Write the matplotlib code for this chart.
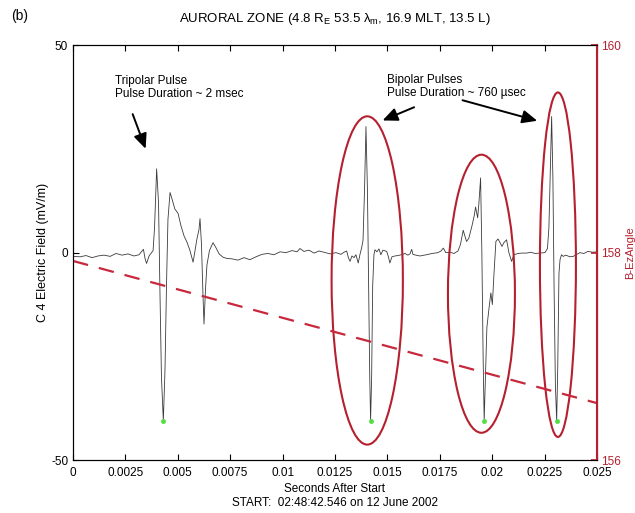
import numpy as np
import matplotlib
matplotlib.use('Agg')
import matplotlib.pyplot as plt
from matplotlib.patches import Ellipse

plt.rcParams['font.family'] = ['Liberation Sans', 'DejaVu Sans']
plt.rcParams['mathtext.fontset'] = 'custom'
plt.rcParams['mathtext.rm'] = 'Liberation Sans'
plt.rcParams['mathtext.it'] = 'Liberation Sans'
plt.rcParams['axes.unicode_minus'] = False

# C4 electric field trace (seconds after start, mV/m)
t_sec = [0, 0.000334, 0.00062, 0.00091, 0.00119, 0.00148, 0.00177, 0.00205, 0.00234, 0.00262,
         0.00291, 0.00315, 0.00336, 0.00344, 0.00351, 0.00363, 0.00372, 0.00382, 0.00389, 0.00399,
         0.00408, 0.00415, 0.00422, 0.00431, 0.00439, 0.00446, 0.00453, 0.00463, 0.00472, 0.00486,
         0.00501, 0.00515, 0.00530, 0.00544, 0.00558, 0.00573, 0.00582, 0.00592, 0.00601, 0.00606,
         0.00613, 0.00620, 0.00625, 0.00632, 0.00639, 0.00651, 0.00668, 0.00682, 0.00697, 0.00716,
         0.00735, 0.00759, 0.00787, 0.00816, 0.00844, 0.00873, 0.00902, 0.00930, 0.00959, 0.00988,
         0.01016, 0.01045, 0.01069, 0.01083, 0.01102, 0.01126, 0.01150, 0.01174, 0.01198, 0.01226,
         0.01255, 0.01279, 0.01293, 0.01306, 0.01314, 0.01322, 0.01331, 0.01341, 0.01350, 0.01361,
         0.01369, 0.01377, 0.01384, 0.01391, 0.01398, 0.01405, 0.01411, 0.01416, 0.01420, 0.01425,
         0.01430, 0.01436, 0.01441, 0.01450, 0.01460, 0.01469, 0.01479, 0.01497, 0.01505, 0.01512,
         0.01522, 0.01536, 0.01550, 0.01568, 0.01584, 0.01598, 0.01608, 0.01616, 0.01622, 0.01636,
         0.01655, 0.01687, 0.01713, 0.01741, 0.01756, 0.01767, 0.01779, 0.01799, 0.01818, 0.01837,
         0.01849, 0.01862, 0.01870, 0.01878, 0.01889, 0.01904, 0.01915, 0.01921, 0.01931, 0.01937,
         0.01945, 0.01951, 0.01957, 0.01962, 0.01968, 0.01975, 0.01986, 0.01994, 0.02001, 0.02009,
         0.02018, 0.02028, 0.02037, 0.02047, 0.02056, 0.02069, 0.02080, 0.02093, 0.02104, 0.02123,
         0.02142, 0.02165, 0.02185, 0.02204, 0.02228, 0.02252, 0.02264, 0.02271, 0.02278, 0.02284,
         0.02290, 0.02296, 0.02302, 0.02308, 0.02313, 0.02319, 0.02324, 0.02331, 0.02339, 0.02352,
         0.02371, 0.02387, 0.02405, 0.02419, 0.02438, 0.02457, 0.02481, 0.025]
e_field = [-0.9, -1.0, -0.7, -1.2, -0.8, -0.6, -0.9, -0.2, -0.6, -0.3,
           -0.8, -0.5, 0.8, -1.5, -2.6, -0.8, -0.2, 0.5, 6, 20.2,
           12, -10, -30, -40.5, -28, -8, 8, 14.5, 13, 10.5,
           9.5, 6.5, 4, 2.5, 0.5, -2.3, 0.5, 3.5, 5.5, 8.2,
           2, -10, -17.2, -9, -3, 0.5, 2.4, 1.2, -0.3, -1.1,
           -1.4, -1.5, -1.8, -1.2, -1.7, -1.0, -0.4, -0.2, -0.5, 0.2,
           0.0, 0.5, 0.2, 1.0, 0.3, 0.6, -0.1, 0.4, 0.1, -0.3,
           0.0, -0.4, 0.1, 0.4, -1.2, -2.1, -0.8, -1.2, -0.5, -2.5,
           -0.5, 1.1, 3, 15, 30.4, 15, -10, -30, -40.5, -30,
           -8, -0.5, 0.7, 0.2, 0.9, -0.5, 0.6, 0.3, -1, -2.5,
           -1.0, -0.8, -0.7, -0.5, -0.2, -0.6, -0.3, 0.8, -0.4, -0.6,
           -0.8, -0.5, -0.2, 0.0, 0.4, 1.1, 0.0, 0.1, -0.2, 0.4,
           2.0, 5.4, 4.0, 2.7, 3.5, 6.5, 9, 11, 8.4, 12,
           18, 0, -25, -40.5, -30, -18, -13, -9.7, -12.5, -5,
           2.7, 3.3, 2.5, 1.5, 2.4, 3.1, 0, -2.1, -0.5, -0.2,
           -0.1, -0.1, 0.1, -0.2, -0.1, 0.0, 1.0, 6, 20, 32.8,
           18, -10, -32, -40.5, -28, -5, -1.7, -0.5, -0.9, -0.6,
           -1.0, -0.9, -0.4, 0.0, -0.2, 0.3, 0.1, 0.2]

# pulse minima marked in green
min_t = [0.00431, 0.01420, 0.01962, 0.02308]
min_e = [-40.5, -40.5, -40.5, -40.5]

# B-Ez angle (deg), right axis
angle_t = [0, 0.025]
angle = [157.92, 156.55]

# circled bipolar pulses: centre t, centre E, width, height
ell_t = [0.01404, 0.01949, 0.02314]
ell_e = [-6.7, -9.9, -2.9]
ell_w = [0.003402, 0.003197, 0.001718]
ell_h = [79.1, 67.0, 83.0]

xticks = [0, 0.0025, 0.005, 0.0075, 0.01, 0.0125, 0.015, 0.0175, 0.02, 0.0225, 0.025]
xlabels = ['0', '0.0025', '0.005', '0.0075', '0.01', '0.0125', '0.015', '0.0175', '0.02', '0.0225', '0.025']

red = '#b5202e'
fig = plt.figure(figsize=(6.35, 5.13), dpi=100)
ax = fig.add_axes([0.115, 0.103, 0.825, 0.809])

ax.plot(t_sec, e_field, color='#3a3a3a', lw=0.6)
ax.plot(min_t, min_e, 'o', color='#55dd44', ms=2.5, zorder=5)

for i in range(len(ell_t)):
    ax.add_patch(Ellipse((ell_t[i], ell_e[i]), ell_w[i], ell_h[i], fill=False,
                         edgecolor=red, lw=1.5, zorder=4))

ax.set_xlim(0, 0.025)
ax.set_ylim(-50, 50)
ax.set_xticks(xticks)
ax.set_xticklabels(xlabels)
ax.set_yticks([-50, 0, 50])
ax.tick_params(direction='in', labelsize=8.5, length=4, top=True)
ax.tick_params(axis='x', pad=5)
ax.set_xlabel('Seconds After Start\nSTART:  02:48:42.546 on 12 June 2002', fontsize=8.5, labelpad=3)
ax.set_ylabel('C 4 Electric Field (mV/m)', fontsize=9)
ax.yaxis.set_label_coords(-0.045, 0.5)
for s in ['top', 'left', 'bottom']:
    ax.spines[s].set_linewidth(0.8)

ax2 = ax.twinx()
ax2.plot(angle_t, angle, color='#c8283c', lw=1.6, dashes=(7, 5))
ax2.set_ylim(156, 160)
ax2.set_yticks([156, 158, 160])
ax2.tick_params(direction='in', colors=red, labelsize=8.5, length=4, width=1.2, pad=3)
ax2.spines['right'].set_color(red)
ax2.spines['right'].set_linewidth(1.5)
ax2.set_ylabel('B-EzAngle', color=red, fontsize=8, labelpad=3)

ap = dict(arrowstyle='-|>,head_length=0.9,head_width=0.4', color='black', lw=1.4)
ax.text(0.002, 39.9, 'Tripolar Pulse\nPulse Duration ~ 2 msec', fontsize=8.5, va='center', linespacing=1.1)
ax.annotate('', xy=(0.00351, 24.4), xytext=(0.0028, 34.0), arrowprops=ap)
ax.text(0.01497, 40.1, 'Bipolar Pulses\nPulse Duration ~ 760 \u00b5sec', fontsize=8.5, va='center', linespacing=1.1)
ax.annotate('', xy=(0.01465, 31.6), xytext=(0.0164, 35.3), arrowprops=ap)
ax.annotate('', xy=(0.02228, 31.6), xytext=(0.01846, 36.9), arrowprops=ap)

fig.text(0.528, 0.962, r'AURORAL ZONE (4.8 R$_\mathrm{E}$ 53.5 $\lambda_\mathrm{m}$, 16.9 MLT, 13.5 L)',
         ha='center', va='center', fontsize=9.5)
fig.text(0.018, 0.968, '(b)', ha='left', va='center', fontsize=10)

fig.savefig('out.png', dpi=100)
